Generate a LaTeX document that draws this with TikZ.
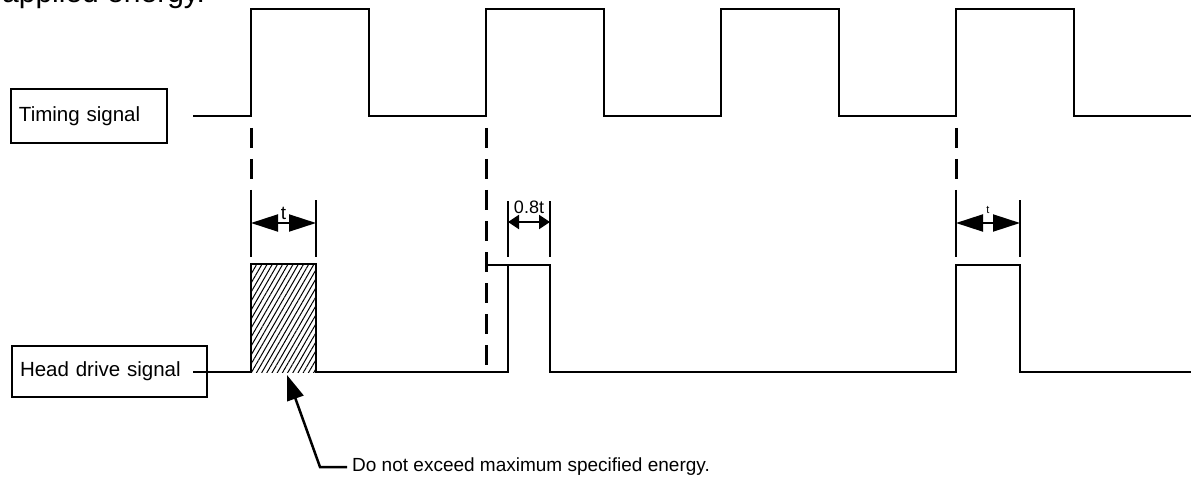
\documentclass[tikz,border=0pt]{standalone}
\usepackage{fontspec}
\setmainfont{Liberation Sans}
\usetikzlibrary{arrows.meta, calc, patterns.meta}
\tikzset{
  sigline/.style={line width=2.5pt, black, line join=miter},
  dashline/.style={line width=3pt, black, dash pattern=on 20pt off 11pt},
  extline/.style={line width=2.5pt, black},
  dimarrow/.style={{Triangle[length=27pt, width=17pt]}-{Triangle[length=27pt, width=17pt]}, line width=2pt},
  dimarrow_small/.style={{Triangle[length=11pt, width=14pt]}-{Triangle[length=11pt, width=14pt]}, line width=2pt},
  labelbox/.style={draw, line width=2.5pt, inner xsep=8pt, inner ysep=0pt, align=left, font=\fontsize{20.5}{24}\selectfont},
  callout/.style={-{Triangle[length=25pt, width=17pt]}, line width=2.5pt},
  hatch/.style={pattern={Lines[angle=60, distance=4.5pt, line width=1pt]}}
}

\begin{document}
\begin{tikzpicture}[x=1pt, y=-1pt]
    \useasboundingbox (0,0) rectangle (1192,484);
    % text cut off at the top
    \node (prev) [anchor=base west, inner sep=0pt, font=\fontsize{30}{34}\selectfont] at (2,3) {applied energy.};

    % labels
    \node (timing) [labelbox, text width=140pt, minimum height=54pt] at (89,116) {Timing signal};
    \node (head) [labelbox, text width=179pt, minimum height=51pt] at (109.5,371.5) {Head drive signal};

    % timing signal
    \draw[sigline] (193,116)
      \foreach \r in {251,486,721,956} { -- (\r,116) -- (\r,9) -- ({\r+118},9) -- ({\r+118},116) }
      -- (1191,116);

    % head drive signal
    \fill[hatch] (251,264) rectangle (316,372);
    \draw[sigline] (193,372) -- (251,372) -- (251,264) -- (316,264) -- (316,372)
      -- (508,372) -- (508,265) -- (550,265) -- (550,372)
      -- (956,372) -- (956,265) -- (1020,265) -- (1020,372) -- (1191,372);
    \draw[sigline] (486,265) -- (508,265);

    % dashed guides
    \draw[dashline] (251,128) -- (251,190);
    \draw[dashline] (486,128) -- (486,372);
    \draw[dashline] (956,128) -- (956,190);

    % widths
    \draw[extline] (251,190) -- (251,257);
    \draw[extline] (316,200) -- (316,257);
    \draw[extline] (508,201) -- (508,257);
    \draw[extline] (550,201) -- (550,257);
    \draw[extline] (956,190) -- (956,257);
    \draw[extline] (1020,200) -- (1020,257);
    \draw[dimarrow] (251,223) -- (316,223)
      node[midway, anchor=base, yshift=4pt, inner sep=0pt, font=\fontsize{19}{22}\selectfont] (w1) {t};
    \draw[dimarrow_small] (508,222) -- (550,222)
      node[midway, anchor=base, yshift=9pt, inner sep=0pt, font=\fontsize{18}{22}\selectfont] (w2) {0.8t};
    \draw[dimarrow] (956,223) -- (1020,223)
      node[midway, anchor=base, yshift=10pt, inner sep=0pt, font=\fontsize{11}{13}\selectfont] (w3) {t};

    % note
    \node (note) [anchor=west, inner xsep=5pt, inner ysep=0pt, font=\fontsize{19}{22}\selectfont] at (347,467) {Do not exceed maximum specified energy.};
    \coordinate (bend) at (320,467);
    \coordinate (hit) at (287,375);
    \draw[callout] (note.west) -- (note.west -| bend) -- (hit);
\end{tikzpicture}
\end{document}
